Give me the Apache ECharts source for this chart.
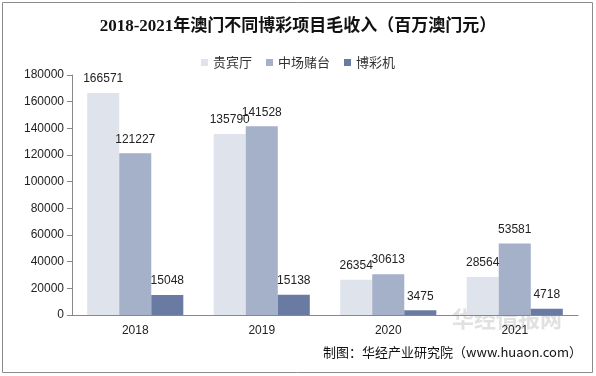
<!DOCTYPE html>
<html>
<head>
<meta charset="utf-8">
<script src="https://cdn.jsdelivr.net/npm/echarts@6/dist/echarts.min.js"></script>
<style>
html, body { margin: 0; padding: 0; background: #fff; }
#chart { width: 596px; height: 376px; }
</style>
</head>
<body>
<div id="chart"></div>
<script>
var years = ['2018', '2019', '2020', '2021'];
var vipRoom = [166571, 135790, 26354, 28564];
var massTable = [121227, 141528, 30613, 53581];
var slotMachine = [15048, 15138, 3475, 4718];
var seriesNames = ['贵宾厅', '中场赌台', '博彩机'];
var colors = ['#dfe3ec', '#a5b0c9', '#6a7ba3'];

var chart = echarts.init(document.getElementById('chart'));

function barSeries(name, data, color) {
    return {
        name: name,
        type: 'bar',
        data: data,
        barGap: '0%',
        barCategoryGap: '24%',
        itemStyle: { color: color },
        label: {
            show: true,
            position: 'top',
            distance: 8,
            color: '#222',
            fontSize: 12,
            fontFamily: 'Arial, "Liberation Sans", sans-serif'
        }
    };
}

var option = {
    animation: false,
    color: colors,
    title: {
        text: '2018-2021年澳门不同博彩项目毛收入（百万澳门元）',
        left: 'center',
        top: 13,
        textStyle: {
            fontSize: 17,
            fontWeight: 'bold',
            color: '#111',
            fontFamily: '"Liberation Serif", "Noto Sans CJK SC", serif'
        }
    },
    legend: {
        top: 51,
        left: 'center',
        itemWidth: 7,
        itemHeight: 7,
        itemGap: 14,
        icon: 'rect',
        textStyle: {
            fontSize: 13,
            color: '#333',
            fontFamily: '"Noto Sans CJK SC", sans-serif'
        },
        data: seriesNames
    },
    grid: {
        left: 72,
        right: 18,
        top: 75,
        bottom: 61
    },
    xAxis: {
        type: 'category',
        data: years,
        axisLine: { lineStyle: { color: '#888' } },
        axisTick: { lineStyle: { color: '#888' }, length: 5 },
        axisLabel: {
            color: '#222',
            fontSize: 12,
            margin: 10,
            fontFamily: 'Arial, "Liberation Sans", sans-serif'
        }
    },
    yAxis: {
        type: 'value',
        min: 0,
        max: 180000,
        interval: 20000,
        axisLine: { show: true, lineStyle: { color: '#888' } },
        axisTick: { show: true, lineStyle: { color: '#888' }, length: 5 },
        splitLine: { show: false },
        axisLabel: {
            color: '#222',
            fontSize: 12,
            margin: 8,
            formatter: function (v) { return String(v); },
            fontFamily: 'Arial, "Liberation Sans", sans-serif'
        }
    },
    graphic: [
        {
            type: 'rect',
            shape: { x: 2.5, y: 2.5, width: 590, height: 370 },
            style: { fill: 'none', stroke: '#8c8c8c', lineWidth: 1 },
            silent: true
        },
        {
            type: 'text',
            right: 34,
            top: 308,
            z: 0,
            style: {
                text: '华经情报网',
                fontSize: 22,
                fontWeight: 'bold',
                fill: 'rgba(170,170,170,0.35)',
                fontFamily: '"Noto Sans CJK SC", sans-serif'
            },
            silent: true
        },
        {
            type: 'text',
            right: 14,
            top: 346,
            style: {
                text: '制图：华经产业研究院（www.huaon.com）',
                fontSize: 13,
                fill: '#111',
                fontFamily: '"Noto Sans CJK SC", sans-serif'
            },
            silent: true
        }
    ],
    series: [
        barSeries(seriesNames[0], vipRoom, colors[0]),
        barSeries(seriesNames[1], massTable, colors[1]),
        barSeries(seriesNames[2], slotMachine, colors[2])
    ]
};

chart.setOption(option);
</script>
</body>
</html>
